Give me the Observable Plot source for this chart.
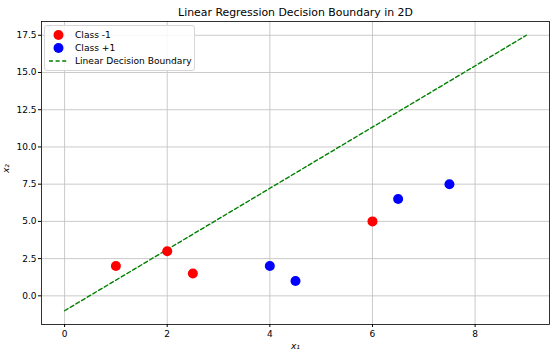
<!DOCTYPE html>
<html>
<head>
<meta charset="utf-8">
<script src="https://cdn.jsdelivr.net/npm/d3@7"></script>
<script src="https://cdn.jsdelivr.net/npm/@observablehq/plot@0.6"></script>
<style>
  html, body { margin: 0; padding: 0; background: #fff; }
  #wrap { position: relative; width: 560px; height: 351px; font-family: "DejaVu Sans", sans-serif; }
  #legend {
    position: absolute; left: 44px; top: 25px; width: 151px; height: 46px;
    box-sizing: border-box; border: 1px solid #d6d6d6; border-radius: 3px;
    background: rgba(255,255,255,0.85); font-size: 9.1px; color: #000;
  }
  .row { position: absolute; left: 0; height: 12px; display: flex; align-items: center; }
  .row span { position: absolute; left: 30px; white-space: nowrap; }
</style>
</head>
<body>
<div id="wrap"></div>
<script>
const classNeg = { label: "Class -1", x: [1, 2, 2.5, 6], y: [2, 3, 1.5, 5] };
const classPos = { label: "Class +1", x: [4, 4.5, 6.5, 7.5], y: [2, 1, 6.5, 7.5] };
const boundaryX = [0, 9];
const boundaryY = [-1, 17.5];
const xTicks = [0, 2, 4, 6, 8];
const yTicks = [0, 2.5, 5, 7.5, 10, 12.5, 15, 17.5];
const title = "Linear Regression Decision Boundary in 2D";

const negData = classNeg.x.map((x, i) => ({ x, y: classNeg.y[i] }));
const posData = classPos.x.map((x, i) => ({ x, y: classPos.y[i] }));
const lineData = boundaryX.map((x, i) => ({ x, y: boundaryY[i] }));

const chart = Plot.plot({
  width: 560,
  height: 351,
  marginLeft: 41,
  marginRight: 11,
  marginTop: 21,
  marginBottom: 27,
  style: { fontFamily: "DejaVu Sans, sans-serif", fontSize: "9px", color: "#000", background: "#fff" },
  x: { domain: [-0.45, 9.45] },
  y: { domain: [-1.925, 18.425] },
  marks: [
    Plot.gridX(xTicks, { stroke: "#c4c4c4", strokeOpacity: 1, strokeWidth: 0.9 }),
    Plot.gridY(yTicks, { stroke: "#c4c4c4", strokeOpacity: 1, strokeWidth: 0.9 }),
    Plot.line(lineData, { x: "x", y: "y", stroke: "#008000", strokeWidth: 1.4, strokeDasharray: "4,2.6" }),
    Plot.dot(negData, { x: "x", y: "y", r: 5, fill: "#ff0000", stroke: "none" }),
    Plot.dot(posData, { x: "x", y: "y", r: 5, fill: "#0000ff", stroke: "none" }),
    Plot.frame({ stroke: "#000", strokeWidth: 0.8 }),
    Plot.axisX(xTicks, { tickSize: 3, tickPadding: 3, label: null, fontSize: 9, tickFormat: d => String(d) }),
    Plot.axisY(yTicks, { tickSize: 3, tickPadding: 2, label: null, fontSize: 9, tickFormat: d => d.toFixed(1) }),
    Plot.text([title], { frameAnchor: "top", dy: -9, fontSize: 10.9, lineAnchor: "middle" }),
    Plot.text(["x₁"], { frameAnchor: "bottom", dy: 22, fontSize: 9, fontStyle: "italic", lineAnchor: "middle" }),
    Plot.text(["x₂"], { frameAnchor: "left", dx: -35, rotate: -90, fontSize: 9, fontStyle: "italic", lineAnchor: "middle" })
  ]
});

const wrap = document.getElementById("wrap");
wrap.appendChild(chart);

const legend = document.createElement("div");
legend.id = "legend";
const items = [
  { label: classNeg.label, type: "dot", color: "#ff0000" },
  { label: classPos.label, type: "dot", color: "#0000ff" },
  { label: "Linear Decision Boundary", type: "line", color: "#008000" }
];
items.forEach((it, i) => {
  const row = document.createElement("div");
  row.className = "row";
  row.style.top = (3 + i * 13.2) + "px";
  const sw = it.type === "dot"
    ? `<svg width="26" height="12"><circle cx="13.5" cy="6" r="5" fill="${it.color}"/></svg>`
    : `<svg width="26" height="12"><line x1="4" x2="23" y1="6" y2="6" stroke="${it.color}" stroke-width="1.4" stroke-dasharray="4,2.6"/></svg>`;
  row.innerHTML = sw + `<span>${it.label}</span>`;
  legend.appendChild(row);
});
wrap.appendChild(legend);
</script>
</body>
</html>
